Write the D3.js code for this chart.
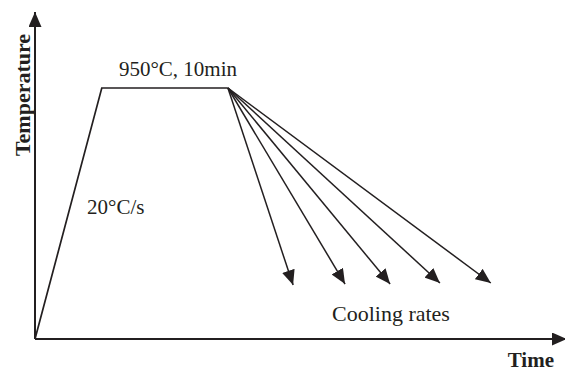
<!DOCTYPE html>
<html>
<head>
<meta charset="utf-8">
<script src="https://cdn.jsdelivr.net/npm/d3@7"></script>
<style>
  body { margin: 0; background: #fff; }
  svg { display: block; font-family: "Liberation Serif", "Times New Roman", serif; }
</style>
</head>
<body>
<div id="chart"></div>
<script>
const width = 565;
const height = 373;

// heat treatment schedule (schematic units: time 0-100, temperature in °C)
const holdTimes = [0, 12.6, 36.4];
const holdTemps = [0, 950, 950];

// end points of the cooling arrows
const coolTimes = [48.7, 58.5, 67.0, 76.4, 86.0];
const coolTemps = [204, 208, 208, 212, 212];

const labels = ["950°C, 10min", "20°C/s", "Cooling rates"];
const axisLabels = ["Time", "Temperature"];

const ink = "#231f20";

const x = d3.scaleLinear().domain([0, 100]).range([35, 565]);
const y = d3.scaleLinear().domain([0, 950]).range([339, 88]);

const svg = d3.select("#chart").append("svg")
    .attr("width", width)
    .attr("height", height)
    .attr("viewBox", `0 0 ${width} ${height}`);

const defs = svg.append("defs");
defs.append("marker")
    .attr("id", "head")
    .attr("viewBox", "0 -6.5 15 13")
    .attr("refX", 15)
    .attr("refY", 0)
    .attr("markerUnits", "userSpaceOnUse")
    .attr("markerWidth", 15)
    .attr("markerHeight", 13)
    .attr("orient", "auto")
  .append("path")
    .attr("d", "M0,-6.5L15,0L0,6.5Z")
    .attr("fill", ink);

// axes
svg.append("line")
    .attr("x1", x(0)).attr("y1", y(0))
    .attr("x2", x(0)).attr("y2", 12)
    .attr("stroke", ink).attr("stroke-width", 2)
    .attr("marker-end", "url(#head)");

svg.append("line")
    .attr("x1", x(0)).attr("y1", y(0))
    .attr("x2", x(100) + 2).attr("y2", y(0))
    .attr("stroke", ink).attr("stroke-width", 2)
    .attr("marker-end", "url(#head)");

// heating + holding
const line = d3.line().x((d, i) => x(holdTimes[i])).y((d, i) => y(holdTemps[i]));
svg.append("path")
    .datum(holdTimes)
    .attr("d", line)
    .attr("fill", "none")
    .attr("stroke", ink)
    .attr("stroke-width", 1.7);

// cooling arrows
const endT = holdTimes[holdTimes.length - 1];
const endC = holdTemps[holdTemps.length - 1];
svg.selectAll(".cool")
  .data(coolTimes)
  .join("line")
    .attr("class", "cool")
    .attr("x1", x(endT)).attr("y1", y(endC))
    .attr("x2", d => x(d))
    .attr("y2", (d, i) => y(coolTemps[i]))
    .attr("stroke", ink)
    .attr("stroke-width", 1.5)
    .attr("marker-end", "url(#head)");

// annotations
svg.append("text")
    .attr("x", 178).attr("y", 76)
    .attr("text-anchor", "middle")
    .attr("font-size", 21)
    .attr("fill", ink)
    .text(labels[0]);

svg.append("text")
    .attr("x", 87).attr("y", 214)
    .attr("font-size", 21)
    .attr("fill", ink)
    .text(labels[1]);

svg.append("text")
    .attr("x", 332).attr("y", 321)
    .attr("font-size", 22)
    .attr("fill", ink)
    .text(labels[2]);

svg.append("text")
    .attr("x", 554).attr("y", 367)
    .attr("text-anchor", "end")
    .attr("font-size", 21)
    .attr("font-weight", "bold")
    .attr("fill", ink)
    .text(axisLabels[0]);

svg.append("text")
    .attr("transform", "translate(30,95) rotate(-90)")
    .attr("text-anchor", "middle")
    .attr("font-size", 22)
    .attr("font-weight", "bold")
    .attr("fill", ink)
    .text(axisLabels[1]);
</script>
</body>
</html>
